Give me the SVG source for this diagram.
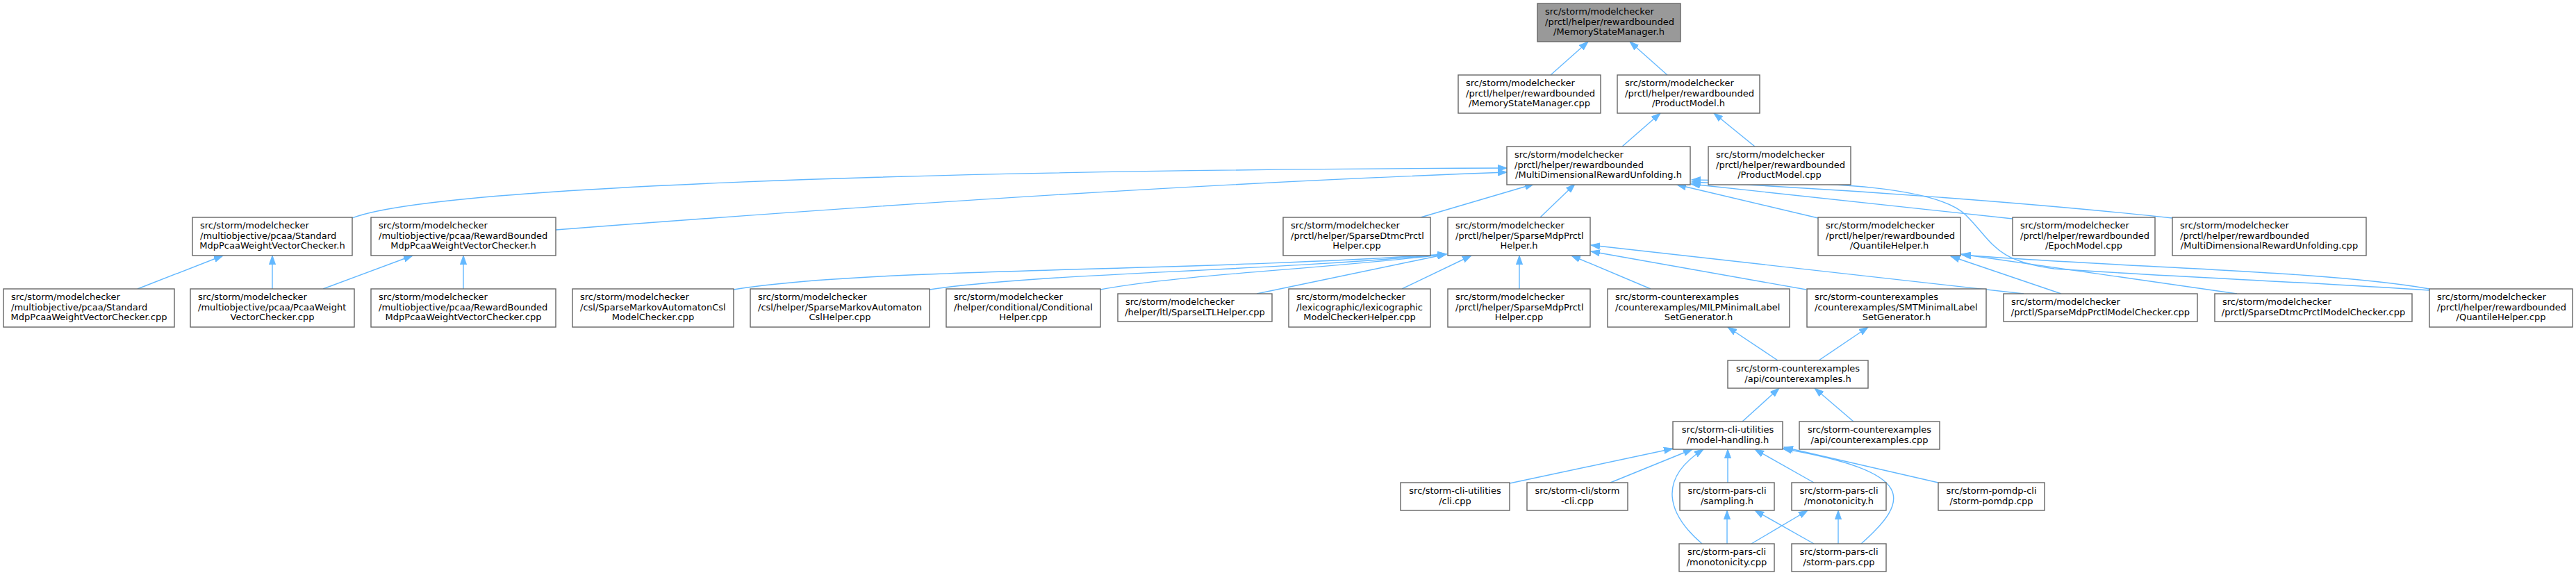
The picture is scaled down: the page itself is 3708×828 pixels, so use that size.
<svg xmlns="http://www.w3.org/2000/svg" width="3708" height="828" viewBox="0 0 3708 828">
<style>
.node rect{fill:#ffffff;stroke:#666666;stroke-width:1.4}
.node.root rect{fill:#999999}
text{font-family:"DejaVu Sans","Liberation Sans",sans-serif;font-size:13px;fill:#000000}
.l{text-anchor:start}
.c{text-anchor:middle}
.edges path{fill:none;stroke:#63b8ff;stroke-width:1.4;marker-end:url(#ah)}
</style>
<defs>
<marker id="ah" markerUnits="userSpaceOnUse" markerWidth="14" markerHeight="10" refX="13" refY="5" orient="auto" viewBox="0 0 14 10">
<path d="M0,0.4 L13,5 L0,9.6 z" fill="#63b8ff" stroke="#63b8ff" stroke-width="1"/>
</marker>
</defs>
<rect x="0" y="0" width="3708" height="828" fill="#ffffff"/>
<g class="edges">
<path d="M2232,108 L2286,60"/>
<path d="M2400,108 L2346,60"/>
<path d="M2335,211 L2390,163"/>
<path d="M2526,211 L2467,163"/>
<path d="M507,314 C620,270 1300,245 2169,242"/>
<path d="M800,331 C1200,300 1700,265 2169,248"/>
<path d="M2045,313 L2208,265"/>
<path d="M2217,313 L2267,265"/>
<path d="M2617,314 L2414,266"/>
<path d="M2897,315 L2434,265"/>
<path d="M3127,314 C2950,295 2700,275 2435,262"/>
<path d="M3497,418 C3300,405 3130,399 2957,387 C2870,375 2870,350 2830,310 C2790,270 2650,262 2435,259"/>
<path d="M3497,416 C3350,390 3050,385 2824,367"/>
<path d="M3220,423 L2823,366"/>
<path d="M2967,423 L2808,369"/>
<path d="M2913,423 L2290,353"/>
<path d="M2600,417 L2290,362"/>
<path d="M2376,416 L2262,368"/>
<path d="M2187,416 L2187,368"/>
<path d="M2018,416 L2118,368"/>
<path d="M1809,423 L2082,366"/>
<path d="M1584,417 C1700,395 1900,388 2082,366"/>
<path d="M1338,417 C1500,393 1800,392 2082,366"/>
<path d="M1056,417 C1250,385 1700,392 2082,366"/>
<path d="M198,416 L321,368"/>
<path d="M392,416 L392,368"/>
<path d="M465,416 L594,368"/>
<path d="M667,416 L667,368"/>
<path d="M2559,519 L2487,471"/>
<path d="M2618,519 L2689,471"/>
<path d="M2668,607 L2612,559"/>
<path d="M2508,607 L2561,559"/>
<path d="M2173,696 L2408,646"/>
<path d="M2318,695 L2436,647"/>
<path d="M2450,783 C2400,740 2385,690 2452,647"/>
<path d="M2487,695 L2487,647"/>
<path d="M2611,695 L2526,647"/>
<path d="M2679,783 C2750,720 2760,680 2566,646"/>
<path d="M2790,695 L2568,644"/>
<path d="M2486,783 L2486,735"/>
<path d="M2611,783 L2526,735"/>
<path d="M2521,783 L2602,735"/>
<path d="M2646,783 L2646,735"/>
</g>
<g id="node1" class="node root"><rect x="2213" y="5" width="206" height="55"/><text class="l" x="2224" y="21">src/storm/modelchecker</text><text class="l" x="2224" y="35.7">/prctl/helper/rewardbounded</text><text class="c" x="2316" y="50.3">/MemoryStateManager.h</text></g>
<g id="node2" class="node"><rect x="2099" y="108" width="205" height="55"/><text class="l" x="2110" y="124">src/storm/modelchecker</text><text class="l" x="2110" y="138.7">/prctl/helper/rewardbounded</text><text class="c" x="2201.5" y="153.3">/MemoryStateManager.cpp</text></g>
<g id="node3" class="node"><rect x="2328" y="108" width="205" height="55"/><text class="l" x="2339" y="124">src/storm/modelchecker</text><text class="l" x="2339" y="138.7">/prctl/helper/rewardbounded</text><text class="c" x="2430.5" y="153.3">/ProductModel.h</text></g>
<g id="node4" class="node"><rect x="2169" y="211" width="264" height="55"/><text class="l" x="2180" y="227">src/storm/modelchecker</text><text class="l" x="2180" y="241.7">/prctl/helper/rewardbounded</text><text class="c" x="2301" y="256.3">/MultiDimensionalRewardUnfolding.h</text></g>
<g id="node5" class="node"><rect x="2459" y="211" width="205" height="55"/><text class="l" x="2470" y="227">src/storm/modelchecker</text><text class="l" x="2470" y="241.7">/prctl/helper/rewardbounded</text><text class="c" x="2561.5" y="256.3">/ProductModel.cpp</text></g>
<g id="node6" class="node"><rect x="277" y="313" width="230" height="55"/><text class="l" x="288" y="329">src/storm/modelchecker</text><text class="l" x="288" y="343.7">/multiobjective/pcaa/Standard</text><text class="c" x="392" y="358.3">MdpPcaaWeightVectorChecker.h</text></g>
<g id="node7" class="node"><rect x="534" y="313" width="266" height="55"/><text class="l" x="545" y="329">src/storm/modelchecker</text><text class="l" x="545" y="343.7">/multiobjective/pcaa/RewardBounded</text><text class="c" x="667" y="358.3">MdpPcaaWeightVectorChecker.h</text></g>
<g id="node8" class="node"><rect x="1847" y="313" width="212" height="55"/><text class="l" x="1858" y="329">src/storm/modelchecker</text><text class="l" x="1858" y="343.7">/prctl/helper/SparseDtmcPrctl</text><text class="c" x="1953" y="358.3">Helper.cpp</text></g>
<g id="node9" class="node"><rect x="2084" y="313" width="205" height="55"/><text class="l" x="2095" y="329">src/storm/modelchecker</text><text class="l" x="2095" y="343.7">/prctl/helper/SparseMdpPrctl</text><text class="c" x="2186.5" y="358.3">Helper.h</text></g>
<g id="node10" class="node"><rect x="2617" y="313" width="205" height="55"/><text class="l" x="2628" y="329">src/storm/modelchecker</text><text class="l" x="2628" y="343.7">/prctl/helper/rewardbounded</text><text class="c" x="2719.5" y="358.3">/QuantileHelper.h</text></g>
<g id="node11" class="node"><rect x="2897" y="313" width="205" height="55"/><text class="l" x="2908" y="329">src/storm/modelchecker</text><text class="l" x="2908" y="343.7">/prctl/helper/rewardbounded</text><text class="c" x="2999.5" y="358.3">/EpochModel.cpp</text></g>
<g id="node12" class="node"><rect x="3127" y="313" width="279" height="55"/><text class="l" x="3138" y="329">src/storm/modelchecker</text><text class="l" x="3138" y="343.7">/prctl/helper/rewardbounded</text><text class="c" x="3266.5" y="358.3">/MultiDimensionalRewardUnfolding.cpp</text></g>
<g id="node13" class="node"><rect x="5" y="416" width="246" height="55"/><text class="l" x="16" y="432">src/storm/modelchecker</text><text class="l" x="16" y="446.7">/multiobjective/pcaa/Standard</text><text class="c" x="128" y="461.3">MdpPcaaWeightVectorChecker.cpp</text></g>
<g id="node14" class="node"><rect x="274" y="416" width="236" height="55"/><text class="l" x="285" y="432">src/storm/modelchecker</text><text class="l" x="285" y="446.7">/multiobjective/pcaa/PcaaWeight</text><text class="c" x="392" y="461.3">VectorChecker.cpp</text></g>
<g id="node15" class="node"><rect x="534" y="416" width="266" height="55"/><text class="l" x="545" y="432">src/storm/modelchecker</text><text class="l" x="545" y="446.7">/multiobjective/pcaa/RewardBounded</text><text class="c" x="667" y="461.3">MdpPcaaWeightVectorChecker.cpp</text></g>
<g id="node16" class="node"><rect x="824" y="416" width="232" height="55"/><text class="l" x="835" y="432">src/storm/modelchecker</text><text class="l" x="835" y="446.7">/csl/SparseMarkovAutomatonCsl</text><text class="c" x="940" y="461.3">ModelChecker.cpp</text></g>
<g id="node17" class="node"><rect x="1080" y="416" width="258" height="55"/><text class="l" x="1091" y="432">src/storm/modelchecker</text><text class="l" x="1091" y="446.7">/csl/helper/SparseMarkovAutomaton</text><text class="c" x="1209" y="461.3">CslHelper.cpp</text></g>
<g id="node18" class="node"><rect x="1362" y="416" width="222" height="55"/><text class="l" x="1373" y="432">src/storm/modelchecker</text><text class="l" x="1373" y="446.7">/helper/conditional/Conditional</text><text class="c" x="1473" y="461.3">Helper.cpp</text></g>
<g id="node19" class="node"><rect x="1609" y="423" width="222" height="40"/><text class="l" x="1620" y="439">src/storm/modelchecker</text><text class="c" x="1720" y="453.7">/helper/ltl/SparseLTLHelper.cpp</text></g>
<g id="node20" class="node"><rect x="1855" y="416" width="204" height="55"/><text class="l" x="1866" y="432">src/storm/modelchecker</text><text class="l" x="1866" y="446.7">/lexicographic/lexicographic</text><text class="c" x="1957" y="461.3">ModelCheckerHelper.cpp</text></g>
<g id="node21" class="node"><rect x="2084" y="416" width="205" height="55"/><text class="l" x="2095" y="432">src/storm/modelchecker</text><text class="l" x="2095" y="446.7">/prctl/helper/SparseMdpPrctl</text><text class="c" x="2186.5" y="461.3">Helper.cpp</text></g>
<g id="node22" class="node"><rect x="2314" y="416" width="262" height="55"/><text class="l" x="2325" y="432">src/storm-counterexamples</text><text class="l" x="2325" y="446.7">/counterexamples/MILPMinimalLabel</text><text class="c" x="2445" y="461.3">SetGenerator.h</text></g>
<g id="node23" class="node"><rect x="2601" y="416" width="258" height="55"/><text class="l" x="2612" y="432">src/storm-counterexamples</text><text class="l" x="2612" y="446.7">/counterexamples/SMTMinimalLabel</text><text class="c" x="2730" y="461.3">SetGenerator.h</text></g>
<g id="node24" class="node"><rect x="2884" y="423" width="279" height="40"/><text class="l" x="2895" y="439">src/storm/modelchecker</text><text class="c" x="3023.5" y="453.7">/prctl/SparseMdpPrctlModelChecker.cpp</text></g>
<g id="node25" class="node"><rect x="3188" y="423" width="284" height="40"/><text class="l" x="3199" y="439">src/storm/modelchecker</text><text class="c" x="3330" y="453.7">/prctl/SparseDtmcPrctlModelChecker.cpp</text></g>
<g id="node26" class="node"><rect x="3497" y="416" width="206" height="55"/><text class="l" x="3508" y="432">src/storm/modelchecker</text><text class="l" x="3508" y="446.7">/prctl/helper/rewardbounded</text><text class="c" x="3600" y="461.3">/QuantileHelper.cpp</text></g>
<g id="node27" class="node"><rect x="2487" y="519" width="202" height="40"/><text class="c" x="2588" y="535">src/storm-counterexamples</text><text class="c" x="2588" y="549.7">/api/counterexamples.h</text></g>
<g id="node28" class="node"><rect x="2408" y="607" width="158" height="40"/><text class="c" x="2487" y="623">src/storm-cli-utilities</text><text class="c" x="2487" y="637.7">/model-handling.h</text></g>
<g id="node29" class="node"><rect x="2590" y="607" width="202" height="40"/><text class="c" x="2691" y="623">src/storm-counterexamples</text><text class="c" x="2691" y="637.7">/api/counterexamples.cpp</text></g>
<g id="node30" class="node"><rect x="2016" y="695" width="157" height="40"/><text class="c" x="2094.5" y="711">src/storm-cli-utilities</text><text class="c" x="2094.5" y="725.7">/cli.cpp</text></g>
<g id="node31" class="node"><rect x="2198" y="695" width="145" height="40"/><text class="c" x="2270.5" y="711">src/storm-cli/storm</text><text class="c" x="2270.5" y="725.7">-cli.cpp</text></g>
<g id="node32" class="node"><rect x="2418" y="695" width="136" height="40"/><text class="c" x="2486" y="711">src/storm-pars-cli</text><text class="c" x="2486" y="725.7">/sampling.h</text></g>
<g id="node33" class="node"><rect x="2579" y="695" width="136" height="40"/><text class="c" x="2647" y="711">src/storm-pars-cli</text><text class="c" x="2647" y="725.7">/monotonicity.h</text></g>
<g id="node34" class="node"><rect x="2790" y="695" width="153" height="40"/><text class="c" x="2866.5" y="711">src/storm-pomdp-cli</text><text class="c" x="2866.5" y="725.7">/storm-pomdp.cpp</text></g>
<g id="node35" class="node"><rect x="2417" y="783" width="137" height="40"/><text class="c" x="2485.5" y="799">src/storm-pars-cli</text><text class="c" x="2485.5" y="813.7">/monotonicity.cpp</text></g>
<g id="node36" class="node"><rect x="2579" y="783" width="136" height="40"/><text class="c" x="2647" y="799">src/storm-pars-cli</text><text class="c" x="2647" y="813.7">/storm-pars.cpp</text></g>
</svg>
